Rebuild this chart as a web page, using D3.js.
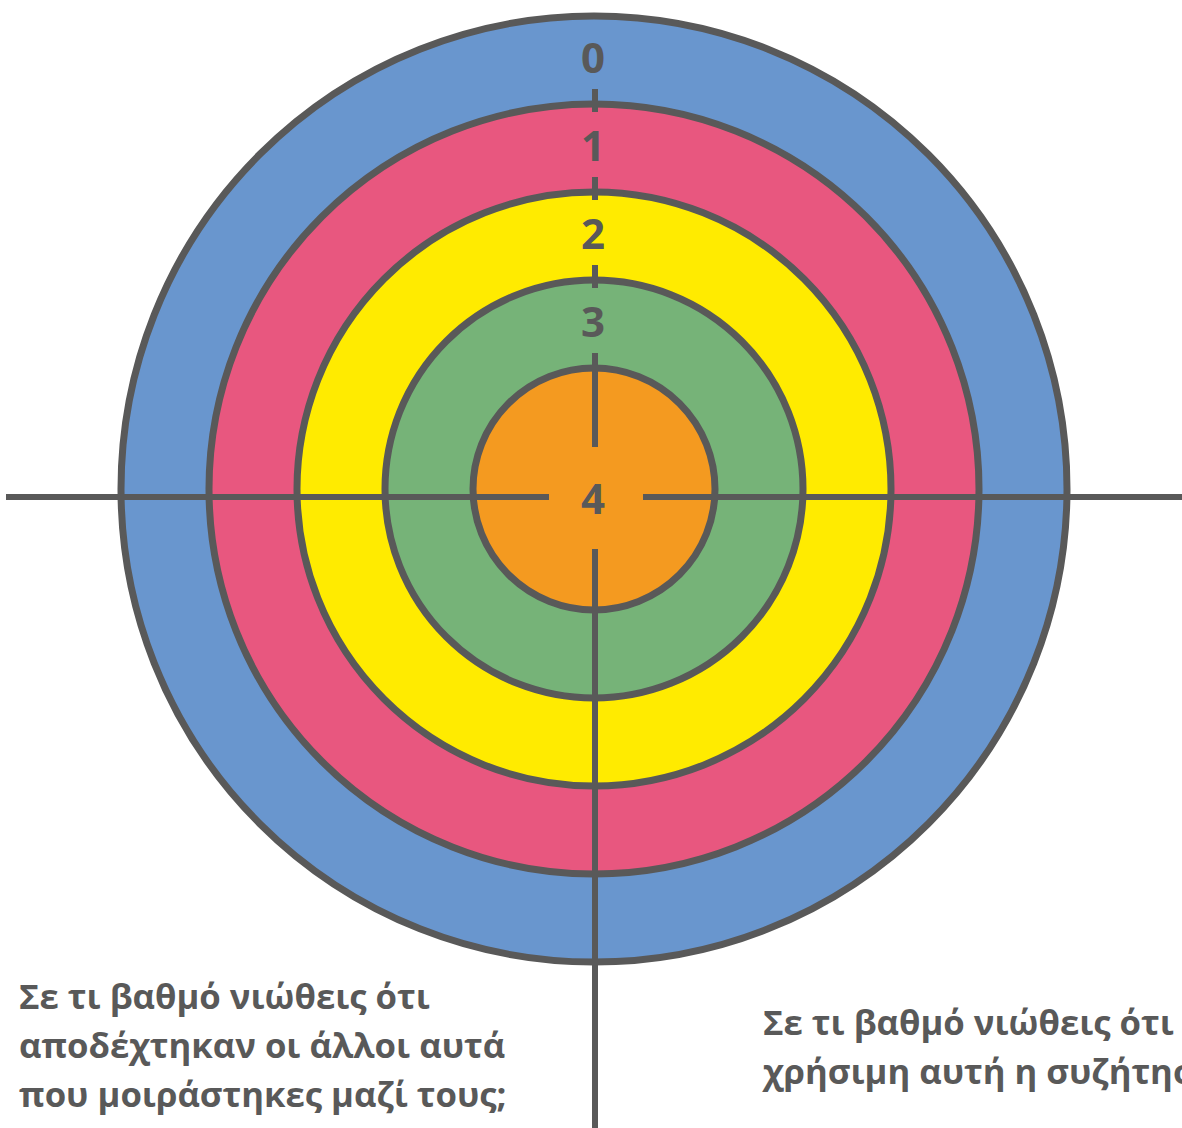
<!DOCTYPE html>
<html lang="el">
<head>
<meta charset="UTF-8">
<title>Στόχος</title>
<script src="https://d3js.org/d3.v7.min.js"></script>
<style>
  body { margin:0; background:#fff; }
  svg { display:block; }
  text { font-family:"Open Sans","Noto Sans",sans-serif; font-weight:bold; fill:#595959; }
</style>
</head>
<body>
<div id="svgDiv"></div>
<script>
// levels of the target, outside to inside
var levels = [0, 1, 2, 3, 4];
var ringColors = ["#6996ce", "#e8577f", "#ffeb00", "#76b378", "#f49a20"];

// the two questions under the target
var leftQuestion = ["Σε τι βαθμό νιώθεις ότι", "αποδέχτηκαν οι άλλοι αυτά", "που μοιράστηκες μαζί τους;"];
var rightQuestion = ["Σε τι βαθμό νιώθεις ότι ήταν", "χρήσιμη αυτή η συζήτηση;"];

var width = 1182, height = 1128;
var cx = 594, cy = 489;
var axisX = 595, axisY = 497;
var lineColor = "#595959";

var svg = d3.select("#svgDiv").append("svg")
  .attr("width", width).attr("height", height);

// outer radius of each level
var r = d3.scaleLinear().domain([0, 4]).range([473, 121]);

// rings, biggest first so the smaller ones sit on top
svg.append("g").selectAll("circle")
  .data(levels)
  .enter().append("circle")
    .attr("cx", cx)
    .attr("cy", cy)
    .attr("r", function(d) { return r(d); })
    .attr("fill", function(d, i) { return ringColors[i]; })
    .attr("stroke", lineColor)
    .attr("stroke-width", 7);

var axes = svg.append("g").attr("stroke", lineColor).attr("stroke-width", 6);

// horizontal axis, split around the centre label
axes.append("line").attr("x1", 6).attr("x2", 549).attr("y1", axisY).attr("y2", axisY);
axes.append("line").attr("x1", 643).attr("x2", width).attr("y1", axisY).attr("y2", axisY);

// vertical axis: inside the bullseye and down past the rings
axes.append("line").attr("x1", axisX).attr("x2", axisX).attr("y1", cy - r(4) - 15).attr("y2", 447);
axes.append("line").attr("x1", axisX).attr("x2", axisX).attr("y1", 549).attr("y2", height);

// small ticks where the vertical axis meets each ring border
axes.selectAll(".tick")
  .data(levels.slice(1, 4))
  .enter().append("line")
    .attr("class", "tick")
    .attr("x1", axisX).attr("x2", axisX)
    .attr("y1", function(d) { return cy - r(d) - 15; })
    .attr("y2", function(d) { return cy - r(d) + 8; });

// level numbers
svg.append("g").selectAll("text")
  .data(levels)
  .enter().append("text")
    .attr("x", 593)
    .attr("y", function(d) {
      if (d == 4) return axisY;
      return cy - (r(d) + r(d + 1)) / 2 - 4;
    })
    .attr("text-anchor", "middle")
    .attr("dominant-baseline", "central")
    .attr("font-size", 42)
    .text(function(d) { return d; });

// question texts
function addLines(lines, x, y0, size) {
  svg.append("text")
    .attr("font-size", size)
    .selectAll("tspan")
    .data(lines)
    .enter().append("tspan")
      .attr("x", x)
      .attr("y", function(d, i) { return y0 + i * 49; })
      .text(function(d) { return d; });
}

// fit the font so the first line is as wide as in the picture
var probe = svg.append("text").attr("font-size", 100).text(leftQuestion[0]);
var fitSize = 100 * 411 / probe.node().getComputedTextLength();
probe.remove();

addLines(leftQuestion, 19, 1009, fitSize);
// the right question runs off the page edge, as in the original
addLines(rightQuestion, 763, 1035, fitSize);
</script>
</body>
</html>
